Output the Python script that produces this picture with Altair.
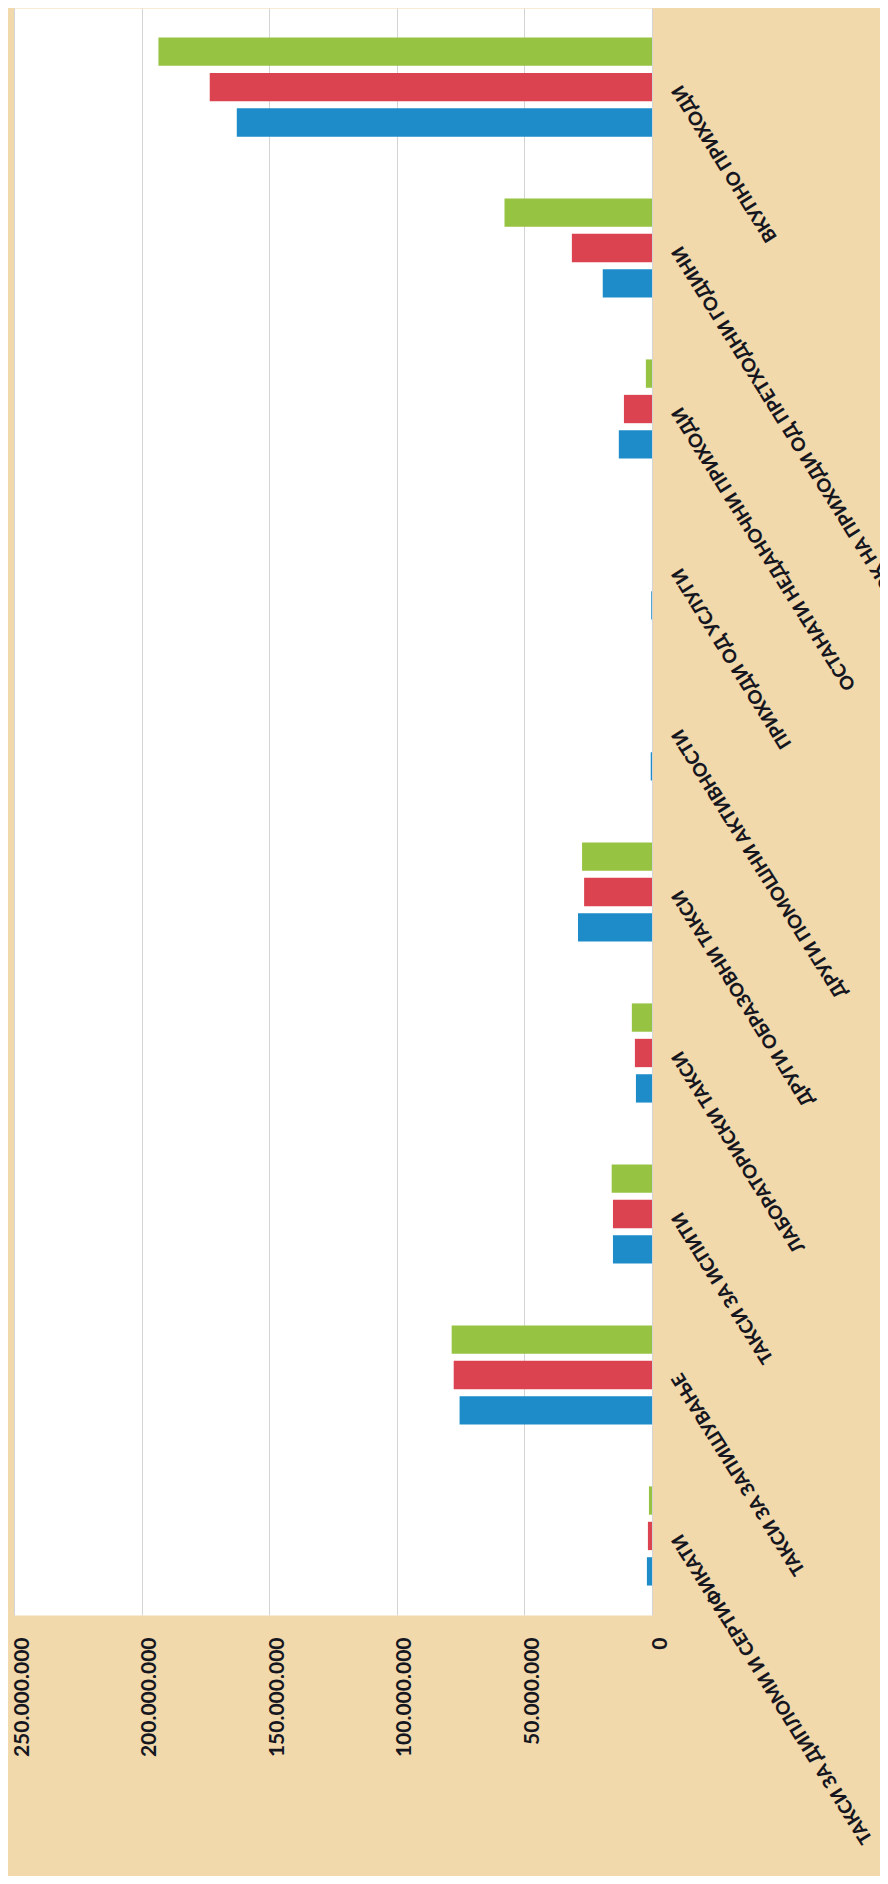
import altair as alt
import pandas as pd

categories = [
    "ВКУПНО ПРИХОДИ",
    "ВИШОК НА ПРИХОДИ ОД ПРЕТХОДНИ ГОДИНИ",
    "ОСТАНАТИ НЕДАНОЧНИ ПРИХОДИ",
    "ПРИХОДИ ОД УСЛУГИ",
    "ДРУГИ ПОМОШНИ АКТИВНОСТИ",
    "ДРУГИ ОБРАЗОВНИ ТАКСИ",
    "ЛАБОРАТОРИСКИ ТАКСИ",
    "ТАКСИ ЗА ИСПИТИ",
    "ТАКСИ ЗА ЗАПИШУВАЊЕ",
    "ТАКСИ ЗА ДИПЛОМИ И СЕРТИФИКАТИ",
]

# values in denars (in millions)
series_1 = [162.7, 19.3, 13.0, 0.3, 0.5, 29.0, 6.3, 15.3, 75.4, 2.0]   # blue
series_2 = [173.3, 31.4, 11.0, 0.0, 0.0, 26.6, 6.7, 15.3, 77.7, 1.6]   # red
series_3 = [193.4, 57.8, 2.4, 0.0, 0.0, 27.4, 7.9, 15.8, 78.5, 1.2]    # green

series_names = ["Серија 3", "Серија 2", "Серија 1"]   # order inside each group (top to bottom)
series_colors = ["#96C341", "#DC4350", "#1E8CC8"]

tick_values = [0, 50000000, 100000000, 150000000, 200000000, 250000000]

rows = []
for name, vals in zip(["Серија 1", "Серија 2", "Серија 3"], [series_1, series_2, series_3]):
    for c, v in zip(categories, vals):
        rows.append({"cat": c, "series": name, "value": v * 1_000_000})
df = pd.DataFrame(rows)

label_color = "#16161f"

chart = alt.Chart(df).mark_bar().encode(
    y=alt.Y(
        "cat:N",
        sort=categories,
        scale=alt.Scale(paddingInner=0.34, paddingOuter=0.161),
        axis=alt.Axis(
            orient="right",
            title=None,
            labelAngle=238,
            labelAlign="right",
            labelBaseline="middle",
            labelPadding=24,
            labelFontSize=18.5,
            labelFont="Lato",
            labelFontWeight=900,
            labelColor=label_color,
            labelLimit=0,
            labelOverlap=False,
            ticks=False,
            domain=False,
            grid=False,
        ),
    ),
    yOffset=alt.YOffset(
        "series:N",
        sort=series_names,
        scale=alt.Scale(domain=series_names, paddingInner=0.2, paddingOuter=0.1),
    ),
    x=alt.X(
        "value:Q",
        scale=alt.Scale(domain=[0, 250000000], reverse=True, nice=False),
        axis=alt.Axis(
            orient="bottom",
            title=None,
            values=tick_values,
            labelAngle=270,
            labelAlign="right",
            labelBaseline="middle",
            labelOffset=8,
            labelPadding=22,
            labelFontSize=21,
            labelFont="Lato",
            labelFontWeight="bold",
            labelColor=label_color,
            labelExpr="replace(format(datum.value, ','), regexp(',', 'g'), '.')",
            ticks=False,
            domain=False,
            grid=True,
            gridColor="#d4d4d4",
            gridWidth=1,
        ),
    ),
    color=alt.Color(
        "series:N",
        scale=alt.Scale(domain=series_names, range=series_colors),
        legend=None,
    ),
).properties(
    width=638,
    height=1607,
    autosize=alt.AutoSizeParams(type="none"),
    padding={"left": 6, "top": 0, "right": 228, "bottom": 261},
    background="#F1D9AC",
).configure_view(
    fill="white",
    stroke="transparent",
)

chart.save("out.html", embed_options={"renderer": "svg", "actions": False})
